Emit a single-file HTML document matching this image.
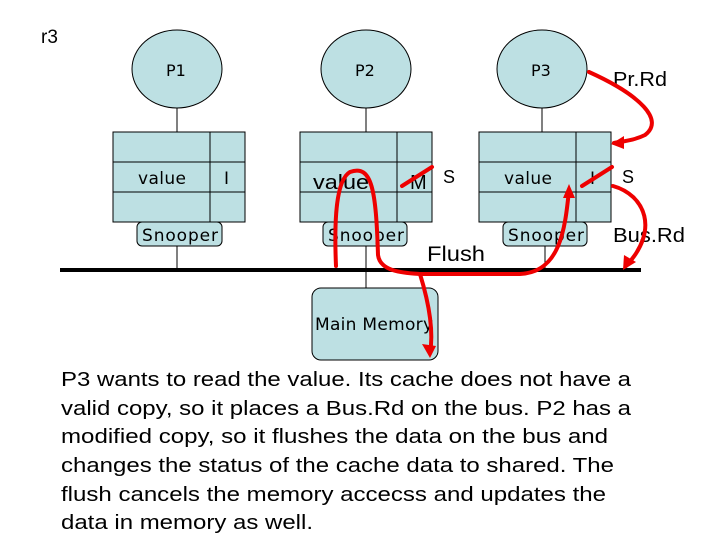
<!DOCTYPE html>
<html><head><meta charset="utf-8"><style>body{margin:0;background:#fff}svg{display:block}</style></head><body>
<svg width="720" height="540" xmlns="http://www.w3.org/2000/svg" font-family="Liberation Sans, sans-serif">
<rect width="720" height="540" fill="#fff"/>
<text x="41" y="43" font-size="19">r3</text>
<g stroke="#000" stroke-width="1" fill="#bde0e3">
<line x1="177" y1="108" x2="177" y2="132"/><line x1="366" y1="108" x2="366" y2="132"/><line x1="542" y1="108" x2="542" y2="132"/>
<line x1="177" y1="246" x2="177" y2="270"/><line x1="366" y1="246" x2="366" y2="295"/><line x1="545" y1="246" x2="545" y2="270"/>
<ellipse cx="177" cy="69" rx="45" ry="39"/><ellipse cx="366" cy="69" rx="45" ry="39"/><ellipse cx="542" cy="69" rx="45" ry="39"/>
<rect x="113" y="132" width="132" height="90"/><line x1="113" y1="162" x2="245" y2="162"/><line x1="113" y1="192" x2="245" y2="192"/><line x1="210" y1="132" x2="210" y2="222"/>
<rect x="300" y="132" width="132" height="90"/><line x1="300" y1="162" x2="432" y2="162"/><line x1="300" y1="192" x2="432" y2="192"/><line x1="397" y1="132" x2="397" y2="222"/>
<rect x="479" y="132" width="132" height="90"/><line x1="479" y1="162" x2="611" y2="162"/><line x1="479" y1="192" x2="611" y2="192"/><line x1="576" y1="132" x2="576" y2="222"/>
<rect x="137" y="222" width="85" height="24" rx="5"/><rect x="323" y="222" width="84" height="24" rx="5"/><rect x="503" y="222" width="84" height="24" rx="5"/>
<rect x="312" y="288" width="126" height="72" rx="9"/>
</g>
<line x1="60" y1="270" x2="641" y2="270" stroke="#000" stroke-width="4"/>
<g font-family="DejaVu Sans, sans-serif" font-size="17" lengthAdjust="spacingAndGlyphs">
<text x="166" y="76" font-size="16">P1</text><text x="355" y="76" font-size="16">P2</text><text x="531" y="76" font-size="16">P3</text>
<text x="138" y="184" textLength="48">value</text><text x="224" y="184">I</text>
<text x="504" y="184" textLength="48">value</text><text x="590" y="184">I</text>
<text x="142" y="241" textLength="76">Snooper</text><text x="328" y="241" textLength="76">Snooper</text><text x="508" y="241" textLength="76">Snooper</text>
<text x="315" y="330" textLength="118">Main Memory</text>
</g>
<g font-size="20">
<text x="313" y="189" textLength="56" lengthAdjust="spacingAndGlyphs">value</text><text x="410" y="189">M</text>
<text x="443" y="183" font-size="18">S</text><text x="622" y="183" font-size="18">S</text>
<text x="613" y="86" textLength="54" lengthAdjust="spacingAndGlyphs">Pr.Rd</text><text x="613" y="242" textLength="72" lengthAdjust="spacingAndGlyphs">Bus.Rd</text><text x="427" y="261" font-size="21" textLength="58" lengthAdjust="spacingAndGlyphs">Flush</text>
</g>
<g stroke="#e00" stroke-width="4" fill="none" stroke-linecap="round">
<line x1="402" y1="186" x2="432" y2="167"/><line x1="582" y1="186" x2="612" y2="167"/>
<path d="M336,266 C334,220 336,180 350,172 C372,164 376,190 378,255 C380,272 405,273 420,274 L520,274 C560,272 565,230 569,190"/>
<path d="M420,274 C428,300 434,330 430,353"/>
<path d="M589,72 C640,95 665,120 645,135 C635,140 625,141 614,143"/>
<path d="M613,186 C645,195 660,230 626,266"/>
</g>
<g fill="#e00">
<polygon points="569,184 563,198 575,198"/>
<polygon points="430,358 422,344 436,346"/>
<polygon points="611,144 624,136 624,149"/>
<polygon points="623,270 624,255 636,262"/>
</g>
<g font-size="20">
<text x="61" y="386" textLength="570" lengthAdjust="spacingAndGlyphs">P3 wants to read the value. Its cache does not have a</text>
<text x="61" y="415" textLength="570" lengthAdjust="spacingAndGlyphs">valid copy, so it places a Bus.Rd on the bus. P2 has a</text>
<text x="61" y="443" textLength="547" lengthAdjust="spacingAndGlyphs">modified copy, so it flushes the data on the bus and</text>
<text x="61" y="472" textLength="553" lengthAdjust="spacingAndGlyphs">changes the status of the cache data to shared. The</text>
<text x="61" y="501" textLength="545" lengthAdjust="spacingAndGlyphs">flush cancels the memory accecss and updates the</text>
<text x="61" y="529" textLength="252" lengthAdjust="spacingAndGlyphs">data in memory as well.</text>
</g>
</svg>
</body></html>
